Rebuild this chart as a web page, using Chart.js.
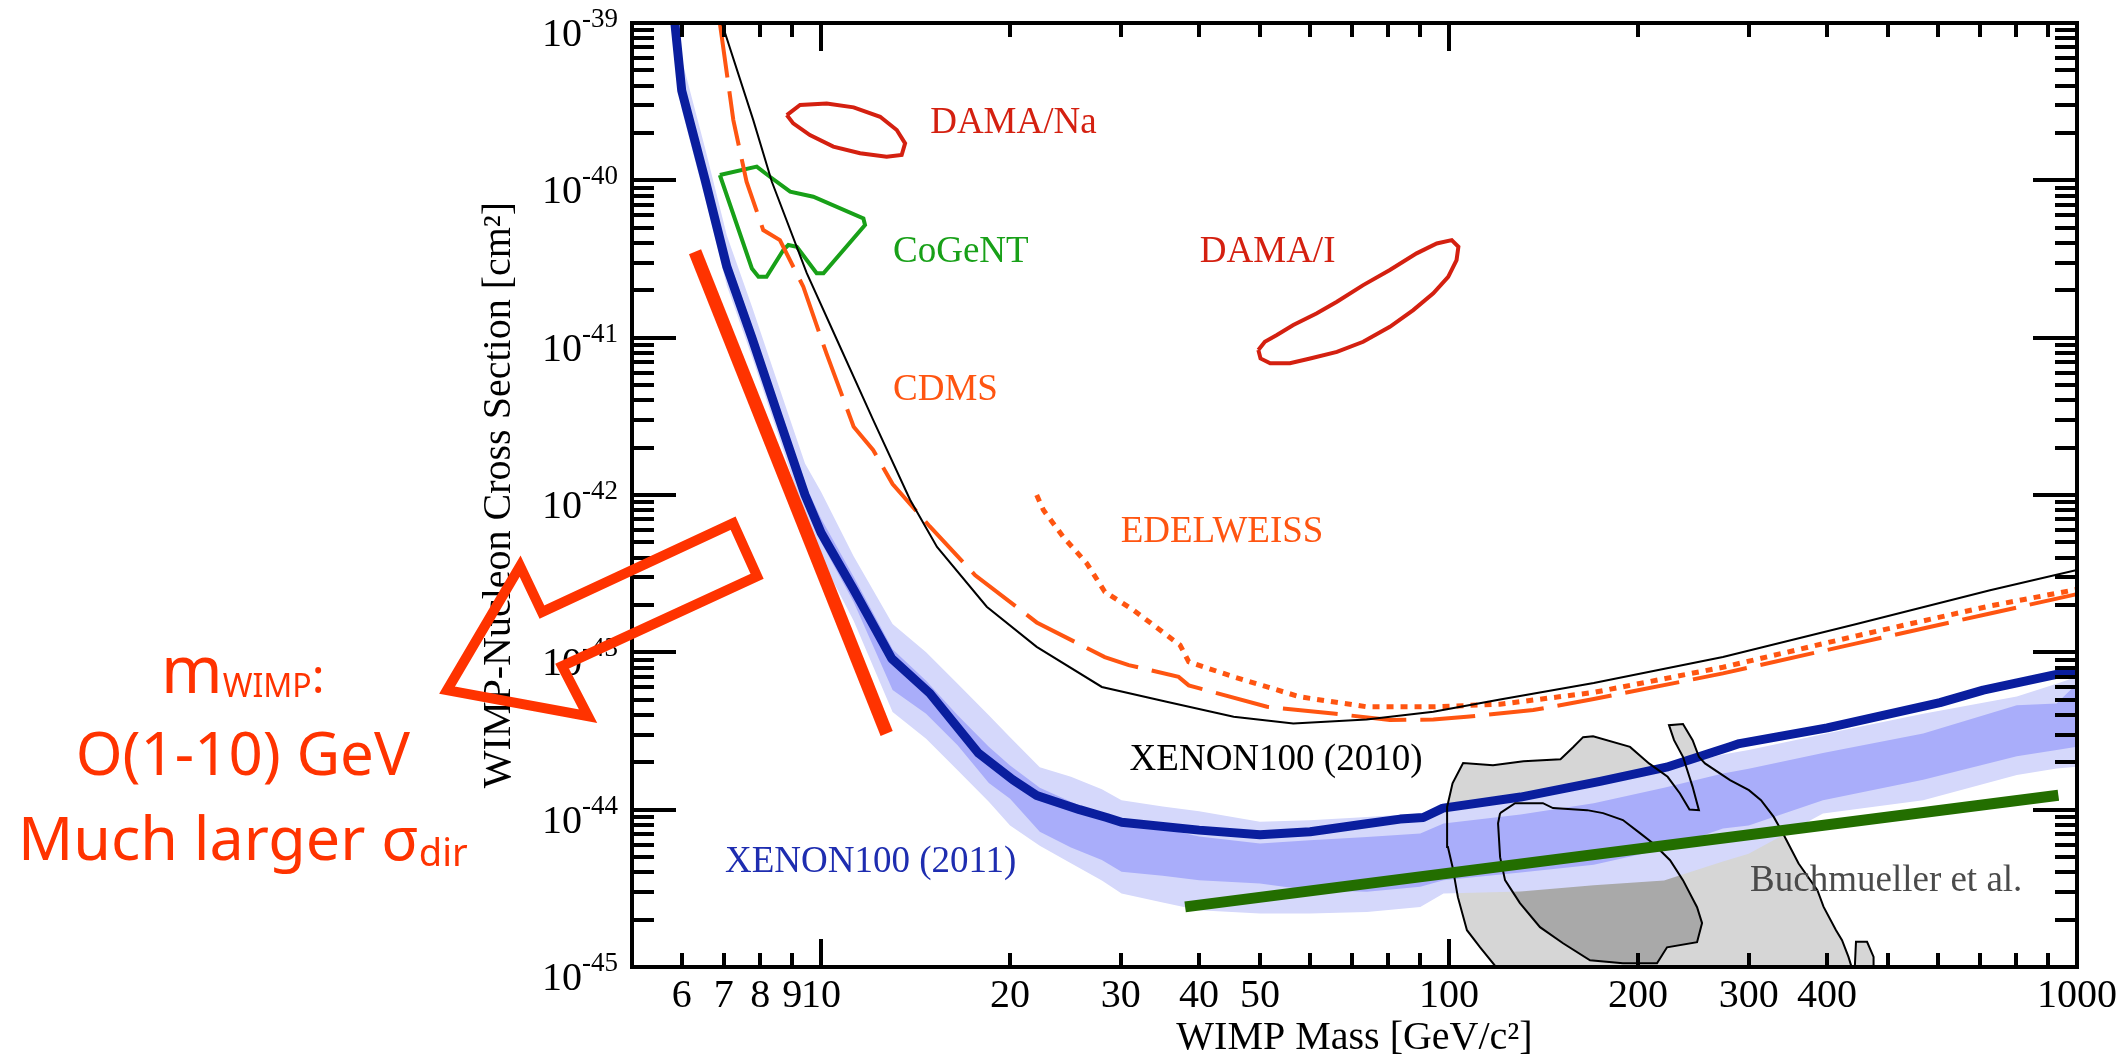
<!DOCTYPE html>
<html>
<head>
<meta charset="utf-8">
<title>WIMP-nucleon cross section limits</title>
<script src="https://cdn.jsdelivr.net/npm/chart.js@4.4.1/dist/chart.umd.min.js"></script>
<style>
  html, body { margin: 0; padding: 0; background: #fff; }
  canvas { display: block; }
</style>
</head>
<body>
<canvas id="limits" width="2123" height="1062"></canvas>
<script>
// masses in GeV/c^2, cross sections stored as log10(sigma / cm^2)

// XENON100 (2011) observed limit
const xenon2011Mass = [5.8, 6.0, 6.54, 7.08, 7.76, 8.55, 9.43, 10.0, 11.27, 12.96, 14.9, 17.8, 20.2, 22.05, 25.8, 28.5, 30.1, 40, 50, 60.1, 73.9, 83.6, 91, 97.8, 130, 174, 222, 280, 290, 400, 605, 709, 928, 1000];
const xenon2011Sigma = [-38.85, -39.43, -40.0, -40.55, -41.0, -41.5, -42.0, -42.24, -42.60, -43.04, -43.26, -43.64, -43.81, -43.91, -44.0, -44.05, -44.08, -44.13, -44.16, -44.14, -44.09, -44.06, -44.05, -43.99, -43.92, -43.82, -43.73, -43.60, -43.58, -43.48, -43.32, -43.24, -43.14, -43.12];

// expected sensitivity bands
const bandMass = [5.8, 6.0, 6.54, 7.08, 7.76, 8.55, 9.43, 10.0, 11.27, 13.0, 14.7, 16.5, 18.5, 20.0, 22.3, 25.0, 28.0, 30.1, 35, 40, 50, 60, 74, 90, 98, 130, 170, 220, 273, 300, 394, 569, 802, 928, 1000];
const band2UpSigma = [-38.65, -39.23, -39.8, -40.35, -40.8, -41.3, -41.8, -41.98, -42.39, -42.82, -43.0, -43.2, -43.4, -43.54, -43.73, -43.79, -43.87, -43.94, -43.98, -44.01, -44.077, -44.067, -44.046, -44.025, -43.97, -43.90, -43.85, -43.74, -43.65, -43.62, -43.52, -43.39, -43.28, -43.2, -43.155];
const band1UpSigma = [-38.77, -39.35, -39.92, -40.47, -40.92, -41.42, -41.93, -42.15, -42.52, -42.98, -43.18, -43.40, -43.6, -43.72, -43.86, -43.95, -44.03, -44.07, -44.12, -44.17, -44.215, -44.194, -44.173, -44.151, -44.088, -44.03, -43.96, -43.86, -43.77, -43.74, -43.64, -43.516, -43.336, -43.325, -43.198];
const band1LoSigma = [-38.9, -39.48, -40.05, -40.6, -41.05, -41.55, -42.06, -42.3, -42.68, -43.24, -43.39, -43.59, -43.83, -43.93, -44.14, -44.24, -44.32, -44.395, -44.42, -44.448, -44.469, -44.512, -44.522, -44.49, -44.448, -44.40, -44.35, -44.25, -44.12, -44.10, -43.94, -43.81, -43.66, -43.62, -43.60];
const band2LoSigma = [-38.97, -39.55, -40.12, -40.67, -41.12, -41.62, -42.14, -42.4, -42.8, -43.38, -43.55, -43.75, -43.95, -44.10, -44.23, -44.34, -44.45, -44.533, -44.59, -44.639, -44.66, -44.66, -44.65, -44.618, -44.533, -44.52, -44.48, -44.45, -44.33, -44.28, -44.025, -43.94, -43.78, -43.738, -43.727];

// XENON100 (2010)
const xenon2010Mass = [6.95, 7.80, 8.35, 9.49, 10.59, 12.11, 13.86, 15.3, 18.36, 22.05, 28.0, 35.5, 45.4, 56.5, 73.9, 94.4, 120.6, 170, 273, 445.6, 727, 1000];
const xenon2010Sigma = [-39.0, -39.617, -40.009, -40.59, -41.01, -41.524, -42.03, -42.33, -42.71, -42.965, -43.22, -43.314, -43.41, -43.452, -43.427, -43.378, -43.30, -43.195, -43.03, -42.82, -42.605, -42.477];

// CDMS
const cdmsMass = [6.9, 7.25, 7.61, 8.09, 8.6, 9.37, 10.2, 11.27, 12.11, 13.0, 14.9, 17.6, 22.05, 28.3, 30.9, 37.1, 38.5, 51.3, 65.4, 80.5, 94.4, 106.7, 136.2, 170, 273, 445.6, 727, 1000, 1045];
const cdmsSigma = [-39.0, -39.617, -40.009, -40.316, -40.38, -40.676, -41.1, -41.566, -41.715, -41.93, -42.2, -42.51, -42.81, -43.03, -43.081, -43.156, -43.21, -43.346, -43.389, -43.43, -43.427, -43.41, -43.367, -43.297, -43.134, -42.943, -42.753, -42.63, -42.6];

// EDELWEISS
const edelweissMass = [22.05, 22.6, 24.3, 26.5, 28.3, 31.4, 37.3, 38.5, 45.4, 57.9, 73.9, 94.4, 120.6, 170, 273, 445.6, 727, 1000, 1060];
const edelweissSigma = [-42.0, -42.096, -42.266, -42.435, -42.615, -42.73, -42.954, -43.06, -43.156, -43.283, -43.346, -43.346, -43.33, -43.255, -43.095, -42.895, -42.705, -42.60, -42.57];

// DAMA/Na, DAMA/I and CoGeNT regions
const damaNaMass = [8.82, 9.26, 10.21, 11.27, 12.42, 13.2, 13.61, 13.44, 12.72, 11.54, 10.46, 9.6, 9.03, 8.82];
const damaNaSigma = [-39.585, -39.521, -39.511, -39.536, -39.596, -39.68, -39.765, -39.839, -39.85, -39.828, -39.786, -39.712, -39.638, -39.585];
const damaIMass = [49.7, 50.9, 53.2, 56.5, 61.5, 66.3, 73.0, 80.5, 88.8, 95.6, 101.0, 103.5, 102.8, 99.7, 94.4, 87.7, 80.5, 73.0, 66.3, 60.1, 55.8, 51.9, 50.1, 49.7];
const damaISigma = [-41.079, -41.026, -40.983, -40.920, -40.846, -40.772, -40.666, -40.570, -40.464, -40.401, -40.380, -40.422, -40.507, -40.613, -40.718, -40.825, -40.931, -41.026, -41.090, -41.132, -41.163, -41.163, -41.132, -41.079];
const cogentMass = [6.9, 7.90, 8.29, 8.93, 9.72, 11.68, 11.75, 10.09, 9.84, 9.15, 8.87, 8.71, 8.19, 7.95, 7.76, 6.9];
const cogentSigma = [-39.966, -39.913, -39.977, -40.072, -40.104, -40.242, -40.284, -40.591, -40.591, -40.422, -40.411, -40.443, -40.613, -40.613, -40.56, -39.966];

// Buchmueller et al. regions
const buchOuterMass = [118.8, 112.0, 106.8, 103.3, 101.3, 99.6, 99.3, 101.3, 105.3, 117.5, 131.4, 150.5, 157.6, 163.5, 169.6, 194.2, 208.2, 222.9, 233.2, 241.5, 250.0, 244.3, 235.8, 228.2, 224.0, 235.8, 244.3, 250.0, 255.6, 280.2, 300.3, 313.9, 328.9, 340.3, 360.3, 386.0, 394.9, 413.3, 422.5, 432.6, 437.6, 442.8, 444.7, 463.1, 474.3, 474.3, 118.8];
const buchOuterSigma = [-45.0, -44.874, -44.766, -44.556, -44.364, -44.238, -43.984, -43.833, -43.704, -43.717, -43.692, -43.679, -43.603, -43.539, -43.533, -43.601, -43.706, -43.791, -43.897, -43.999, -44.003, -43.855, -43.664, -43.558, -43.463, -43.456, -43.558, -43.664, -43.706, -43.812, -43.876, -43.940, -44.046, -44.151, -44.342, -44.512, -44.618, -44.766, -44.830, -44.936, -45.0, -45.0, -44.840, -44.840, -44.936, -45.0, -45.0];
const buchInnerMass = [120.6, 127.4, 141.1, 146.4, 165.9, 175.9, 189.2, 201.4, 211.2, 224.9, 235.8, 248.3, 252.9, 248.3, 222.4, 214.4, 189.2, 167.7, 151.9, 139.6, 129.7, 122.8, 120.6, 119.7, 120.6];
const buchInnerSigma = [-44.022, -43.959, -43.959, -43.990, -44.003, -44.022, -44.066, -44.149, -44.213, -44.321, -44.448, -44.620, -44.721, -44.842, -44.875, -44.976, -44.976, -44.957, -44.849, -44.747, -44.594, -44.448, -44.302, -44.086, -44.022];

// straight guide lines
const greenMass = [38, 934];
const greenSigma = [-44.618, -43.908];
const redMass = [6.30, 12.72];
const redSigma = [-40.454, -43.516];

// axis ticks
const massTicks = [6, 7, 8, 9, 10, 20, 30, 40, 50, 60, 70, 80, 90, 100, 200, 300, 400, 500, 600, 700, 800, 900, 1000];
const massTickLabels = ['6', '7', '8', '9', '10', '20', '30', '40', '50', '', '', '', '', '100', '200', '300', '400', '', '', '', '', '', '1000'];
const massMajorTicks = [10, 100, 1000];
const sigmaDecades = [-45, -44, -43, -42, -41, -40, -39];
const sigmaExponentLabels = ['-45', '-44', '-43', '-42', '-41', '-40', '-39'];
const sigmaMinorSteps = [2, 3, 4, 5, 6, 7, 8, 9];

// ---- layout / styling ----
const SERIF = '"Liberation Serif", "Times New Roman", serif';
const HAND = '"Comic Sans MS", "Noto Sans", sans-serif';

const plotLabels = [
  {text: 'DAMA/Na', mass: 14.92, logSigma: -39.699, color: '#D42010'},
  {text: 'CoGeNT', mass: 13.02, logSigma: -40.519, color: '#18A018'},
  {text: 'DAMA/I', mass: 40.1, logSigma: -40.517, color: '#D42010'},
  {text: 'CDMS', mass: 13.02, logSigma: -41.397, color: '#FF5511'},
  {text: 'EDELWEISS', mass: 30.0, logSigma: -42.297, color: '#FF5511'},
  {text: 'XENON100 (2010)', mass: 31.0, logSigma: -43.749, color: '#000000'},
  {text: 'XENON100 (2011)', mass: 7.03, logSigma: -44.397, color: '#1E2DB0'},
  {text: 'Buchmueller et al.', mass: 301.6, logSigma: -44.518, color: '#4A4A4A'}
];

// hollow arrow pointing towards light masses (corner positions in axis units)
const arrowShape = {
  mass: [2.538, 3.317, 3.594, 7.244, 7.909, 3.869, 4.256],
  logSigma: [-43.240, -42.452, -42.744, -42.179, -42.516, -43.088, -43.406]
};
const noteLines = [
  {logSigma: -43.259, parts: [{t: 'm', size: 66}, {t: 'WIMP', size: 32, dy: 4}, {t: ':', size: 48}]},
  {logSigma: -43.781, parts: [{t: 'O(1-10) GeV', size: 60}]},
  {logSigma: -44.321, parts: [{t: 'Much larger σ', size: 61}, {t: 'dir', size: 38, dy: 6}]}
];
const noteCenterMass = 1.20;

function pts(mass, logSigma) {
  return mass.map((m, i) => ({x: m, y: Math.pow(10, logSigma[i])}));
}

function curve(label, mass, logSigma, opts) {
  return Object.assign({
    label: label,
    data: pts(mass, logSigma),
    fill: false,
    borderWidth: 2,
    borderColor: '#000',
    pointRadius: 0,
    tension: 0
  }, opts);
}

const overlay = {
  id: 'overlay',
  afterDraw(chart) {
    const {ctx, chartArea: a, scales: {x, y}} = chart;
    ctx.save();
    ctx.setLineDash([]);

    // labels inside the plot
    ctx.textAlign = 'left';
    ctx.textBaseline = 'alphabetic';
    ctx.font = '37px ' + SERIF;
    plotLabels.forEach(l => {
      ctx.fillStyle = l.color;
      ctx.fillText(l.text, x.getPixelForValue(l.mass), y.getPixelForValue(Math.pow(10, l.logSigma)));
    });

    // frame and inward ticks on all four sides
    ctx.fillStyle = '#000000';
    const tw = 4;
    massTicks.forEach(m => {
      const px = Math.round(x.getPixelForValue(m));
      const len = massMajorTicks.includes(m) ? 28 : 14;
      ctx.fillRect(px - tw / 2, a.bottom - len, tw, len);
      ctx.fillRect(px - tw / 2, a.top, tw, len);
    });
    sigmaDecades.forEach(e => {
      const py = Math.round(y.getPixelForValue(Math.pow(10, e)));
      ctx.fillRect(a.left, py - tw / 2, 44, tw);
      ctx.fillRect(a.right - 44, py - tw / 2, 44, tw);
      if (e < -39) {
        sigmaMinorSteps.forEach(k => {
          const pm = Math.round(y.getPixelForValue(k * Math.pow(10, e)));
          ctx.fillRect(a.left, pm - tw / 2, 22, tw);
          ctx.fillRect(a.right - 22, pm - tw / 2, 22, tw);
        });
      }
    });
    ctx.strokeStyle = '#000000';
    ctx.lineWidth = 4;
    ctx.strokeRect(a.left, a.top, a.right - a.left, a.bottom - a.top);

    // tick labels
    ctx.fillStyle = '#000';
    ctx.font = '40px ' + SERIF;
    ctx.textAlign = 'center';
    massTicks.forEach((m, i) => {
      if (massTickLabels[i]) ctx.fillText(massTickLabels[i], x.getPixelForValue(m), a.bottom + 40);
    });
    ctx.textAlign = 'right';
    sigmaDecades.forEach((e, i) => {
      const py = y.getPixelForValue(Math.pow(10, e));
      const right = a.left - 14;
      ctx.font = '27px ' + SERIF;
      const w = ctx.measureText(sigmaExponentLabels[i]).width;
      ctx.fillText(sigmaExponentLabels[i], right, py + 4);
      ctx.font = '40px ' + SERIF;
      ctx.fillText('10', right - w, py + 23);
    });

    // hollow arrow
    ctx.strokeStyle = '#FF3300';
    ctx.lineWidth = 10;
    ctx.lineJoin = 'miter';
    ctx.beginPath();
    arrowShape.mass.forEach((m, i) => {
      const px = x.getPixelForValue(m);
      const py = y.getPixelForValue(Math.pow(10, arrowShape.logSigma[i]));
      if (i === 0) ctx.moveTo(px, py); else ctx.lineTo(px, py);
    });
    ctx.closePath();
    ctx.stroke();

    // hand-written note
    ctx.fillStyle = '#FF3300';
    ctx.textAlign = 'left';
    const cx = x.getPixelForValue(noteCenterMass);
    noteLines.forEach(line => {
      const base = y.getPixelForValue(Math.pow(10, line.logSigma));
      let total = 0;
      line.parts.forEach(p => { ctx.font = p.size + 'px ' + HAND; p.w = ctx.measureText(p.t).width; total += p.w; });
      let px = cx - total / 2;
      line.parts.forEach(p => {
        ctx.font = p.size + 'px ' + HAND;
        ctx.fillText(p.t, px, base + (p.dy || 0));
        px += p.w;
      });
    });
    ctx.restore();
  }
};

const ORANGE = '#FF5511';

new Chart(document.getElementById('limits'), {
  type: 'line',
  data: {
    datasets: [
      curve('Buchmueller et al. 1', buchOuterMass, buchOuterSigma, {fill: 'shape', backgroundColor: '#D6D6D6', borderWidth: 0, order: 100}),
      curve('Buchmueller et al. 2', buchInnerMass, buchInnerSigma, {fill: 'shape', backgroundColor: '#A9A9A9', borderWidth: 0, order: 99}),
      curve('XENON100 (2011) 2 sigma', bandMass, band2UpSigma, {fill: '+1', backgroundColor: '#D5D8FB', borderWidth: 0, order: 90, clip: 0}),
      curve('2 sigma low', bandMass, band2LoSigma, {borderWidth: 0, order: 90, clip: 0}),
      curve('XENON100 (2011) 1 sigma', bandMass, band1UpSigma, {fill: '+1', backgroundColor: '#A9ADFA', borderWidth: 0, order: 80, clip: 0}),
      curve('1 sigma low', bandMass, band1LoSigma, {borderWidth: 0, order: 80, clip: 0}),
      curve('XENON100 (2010)', xenon2010Mass, xenon2010Sigma, {borderColor: '#000', borderWidth: 2, order: 40, clip: 0}),
      curve('CDMS', cdmsMass, cdmsSigma, {borderColor: ORANGE, borderWidth: 4, borderDash: [55, 14], order: 40, clip: {left: 0, top: 0, right: 30, bottom: 0}}),
      curve('EDELWEISS', edelweissMass, edelweissSigma, {borderColor: ORANGE, borderWidth: 5, borderDash: [7, 7], order: 40, clip: {left: 0, top: 0, right: 30, bottom: 0}}),
      curve('DAMA/Na', damaNaMass, damaNaSigma, {borderColor: '#D42010', borderWidth: 4, order: 40}),
      curve('DAMA/I', damaIMass, damaISigma, {borderColor: '#D42010', borderWidth: 4, order: 40}),
      curve('CoGeNT', cogentMass, cogentSigma, {borderColor: '#18A018', borderWidth: 4, order: 40}),
      curve('XENON100 (2011)', xenon2011Mass, xenon2011Sigma, {borderColor: '#0A1E9E', borderWidth: 9, borderJoinStyle: 'round', order: 30, clip: 0}),
      curve('Buchmueller outline 1', buchOuterMass, buchOuterSigma, {borderColor: '#000', borderWidth: 2, order: 25}),
      curve('Buchmueller outline 2', buchInnerMass, buchInnerSigma, {borderColor: '#000', borderWidth: 2, order: 25}),
      curve('guide green', greenMass, greenSigma, {borderColor: '#236E00', borderWidth: 11, order: 20}),
      curve('guide red', redMass, redSigma, {borderColor: '#FF3300', borderWidth: 13, order: 10})
    ]
  },
  options: {
    responsive: false,
    devicePixelRatio: 1,
    animation: false,
    events: [],
    layout: {padding: {left: 460, top: 23, right: 46, bottom: 0}},
    elements: {point: {radius: 0, hoverRadius: 0}},
    plugins: {legend: {display: false}, tooltip: {enabled: false}},
    scales: {
      x: {
        type: 'logarithmic',
        min: 5,
        max: 1000,
        grid: {display: false, drawTicks: false},
        border: {display: false},
        ticks: {display: false},
        title: {display: true, text: 'WIMP Mass [GeV/c²]', color: '#000', font: {family: SERIF, size: 40}, padding: {top: 0, bottom: 0}},
        afterFit: s => { s.height = 95; }
      },
      y: {
        type: 'logarithmic',
        min: 1e-45,
        max: 1e-39,
        grid: {display: false, drawTicks: false},
        border: {display: false},
        ticks: {display: false},
        title: {display: true, text: 'WIMP-Nucleon Cross Section [cm²]', color: '#000', font: {family: SERIF, size: 40}, padding: {top: 15, bottom: 0}},
        afterFit: s => { s.width = 172; }
      }
    }
  },
  plugins: [overlay]
});
</script>
</body>
</html>
